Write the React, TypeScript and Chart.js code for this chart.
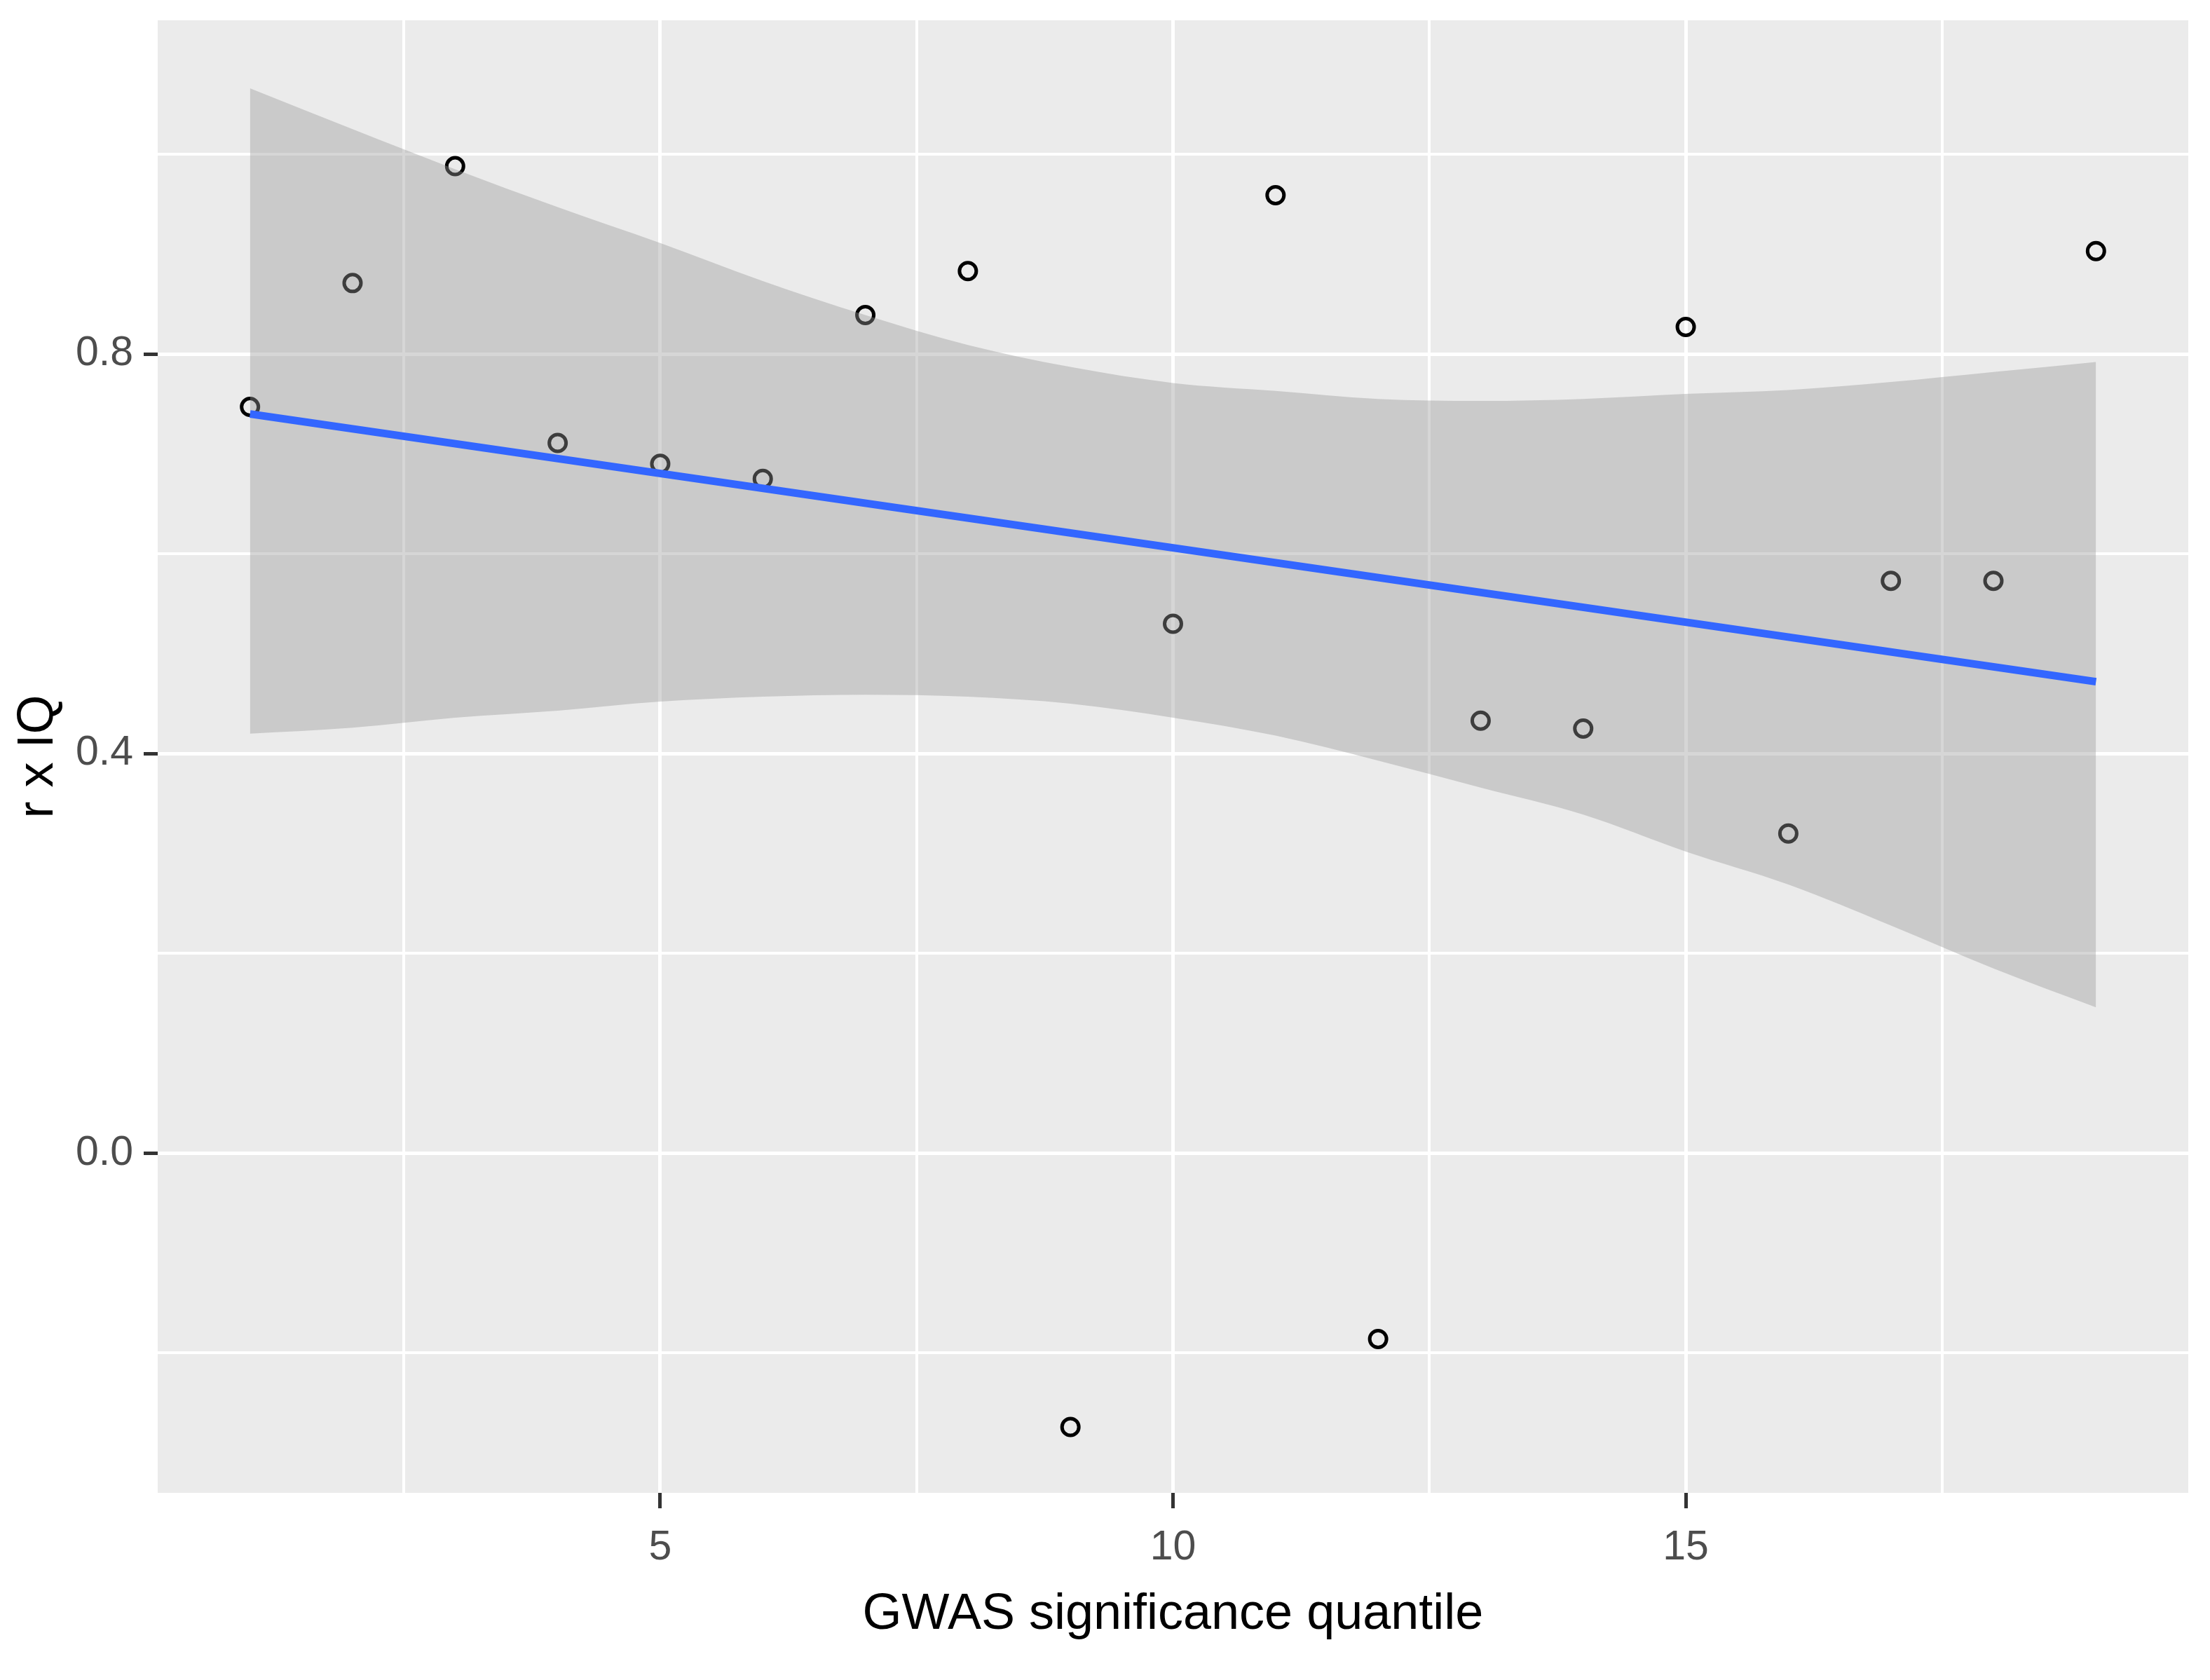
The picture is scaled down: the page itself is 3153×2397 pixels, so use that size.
import React, { useEffect, useRef } from 'react';
import { Chart, registerables } from 'chart.js';
Chart.register(...registerables);

// quantile index and the observed r x IQ value per quantile
const quantiles = [1, 2, 3, 4, 5, 6, 7, 8, 9, 10, 11, 12, 13, 14, 15, 16, 17, 18, 19];
const rxIQ = [0.747, 0.871, 0.988, 0.711, 0.690, 0.675, 0.839, 0.883, -0.274, 0.530,
  0.959, -0.186, 0.433, 0.425, 0.827, 0.320, 0.573, 0.573, 0.903];

// confidence band of the linear fit, read at each quantile
const bandUpper = [1.066, 1.025, 0.985, 0.947, 0.911, 0.873, 0.839, 0.809, 0.787, 0.771,
  0.763, 0.755, 0.753, 0.755, 0.760, 0.764, 0.772, 0.782, 0.792];
const bandLower = [0.420, 0.426, 0.436, 0.443, 0.452, 0.457, 0.459, 0.457, 0.450, 0.436,
  0.418, 0.393, 0.366, 0.339, 0.302, 0.269, 0.228, 0.185, 0.146];

// fitted line end points
const fitX = [1, 19];
const fitY = [0.740, 0.472];

const xMajor = [5, 10, 15];
const xMinor = [2.5, 7.5, 12.5, 17.5];
const yMajor = [0, 0.4, 0.8];
const yMinor = [-0.2, 0.2, 0.6, 1.0];

const FONT = "'Liberation Sans', Arial, sans-serif";

const panelBackground = {
  id: 'panelBackground',
  beforeDraw(chart: Chart) {
    const { ctx, chartArea } = chart;
    ctx.save();
    ctx.fillStyle = '#EBEBEB';
    ctx.fillRect(chartArea.left, chartArea.top, chartArea.right - chartArea.left, chartArea.bottom - chartArea.top);
    ctx.restore();
  },
};

const isIn = (list: number[], v: number) => list.some(m => Math.abs(m - v) < 1e-9);

const App = () => {
  const canvasRef = useRef<HTMLCanvasElement | null>(null);

  useEffect(() => {
    if (!canvasRef.current) return;
    const pts = quantiles.map((q, i) => ({ x: q, y: rxIQ[i] }));
    const up = quantiles.map((q, i) => ({ x: q, y: bandUpper[i] }));
    const lo = quantiles.map((q, i) => ({ x: q, y: bandLower[i] }));
    const fit = fitX.map((x, i) => ({ x, y: fitY[i] }));

    const chart = new Chart(canvasRef.current, {
      type: 'scatter',
      data: {
        datasets: [
          {
            data: pts,
            order: 3,
            pointRadius: 12,
            pointBorderWidth: 5,
            pointBorderColor: '#000000',
            pointBackgroundColor: 'rgba(0,0,0,0)',
          },
          {
            type: 'line',
            data: up,
            order: 2,
            fill: '+1',
            backgroundColor: 'rgba(153,153,153,0.4)',
            borderWidth: 0,
            borderColor: 'rgba(0,0,0,0)',
            pointRadius: 0,
            cubicInterpolationMode: 'monotone',
          },
          {
            type: 'line',
            data: lo,
            order: 2,
            fill: false,
            borderWidth: 0,
            borderColor: 'rgba(0,0,0,0)',
            pointRadius: 0,
            cubicInterpolationMode: 'monotone',
          },
          {
            type: 'line',
            data: fit,
            order: 1,
            fill: false,
            borderColor: '#3366FF',
            borderWidth: 11,
            pointRadius: 0,
          },
        ],
      },
      options: {
        animation: false,
        responsive: true,
        maintainAspectRatio: false,
        devicePixelRatio: 1,
        layout: { padding: { top: 29, right: 31, left: 0, bottom: 0 } },
        plugins: { legend: { display: false }, tooltip: { enabled: false } },
        scales: {
          x: {
            type: 'linear',
            min: 0.1,
            max: 19.9,
            afterBuildTicks: (s: any) => {
              s.ticks = [...xMinor, ...xMajor].sort((a, b) => a - b).map(v => ({ value: v }));
            },
            afterFit: (s: any) => {
              s.height = 267;
              s.paddingLeft = 0;
              s.paddingRight = 0;
            },
            border: { display: false },
            grid: {
              color: '#FFFFFF',
              lineWidth: (c: any) => (isIn(xMajor, c.tick?.value) ? 5 : 4),
              tickColor: (c: any) => (isIn(xMajor, c.tick?.value) ? '#333333' : 'rgba(0,0,0,0)'),
              tickWidth: 5,
              tickLength: 22,
            },
            ticks: {
              color: '#4D4D4D',
              padding: 21,
              maxRotation: 0,
              autoSkip: false,
              font: { family: FONT, size: 59 },
              callback: (v: any) => (isIn(xMajor, v) ? String(v) : ''),
            },
            title: {
              display: true,
              text: 'GWAS significance quantile',
              color: '#000000',
              font: { family: FONT, size: 72 },
              padding: { top: 0, bottom: 50 },
            },
          },
          y: {
            type: 'linear',
            min: -0.34,
            max: 1.134,
            afterBuildTicks: (s: any) => {
              s.ticks = [...yMinor, ...yMajor].sort((a, b) => a - b).map(v => ({ value: v }));
            },
            afterFit: (s: any) => {
              s.width = 225;
              s.paddingTop = 0;
              s.paddingBottom = 0;
            },
            border: { display: false },
            grid: {
              color: '#FFFFFF',
              lineWidth: (c: any) => (isIn(yMajor, c.tick?.value) ? 5 : 4),
              tickColor: (c: any) => (isIn(yMajor, c.tick?.value) ? '#333333' : 'rgba(0,0,0,0)'),
              tickWidth: 5,
              tickLength: 20,
            },
            ticks: {
              color: '#4D4D4D',
              padding: 15,
              autoSkip: false,
              font: { family: FONT, size: 59 },
              callback: (v: any) => (isIn(yMajor, v) ? Number(v).toFixed(1) : ''),
            },
            title: {
              display: true,
              text: 'r x IQ',
              color: '#000000',
              font: { family: FONT, size: 72 },
              padding: { top: 12, bottom: 0 },
            },
          },
        },
      },
      plugins: [panelBackground],
    });

    return () => chart.destroy();
  }, []);

  return (
    <div style={{ position: 'fixed', left: 0, top: 0, width: '3153px', height: '2397px', background: '#FFFFFF' }}>
      <canvas ref={canvasRef} />
    </div>
  );
};

export default App;
